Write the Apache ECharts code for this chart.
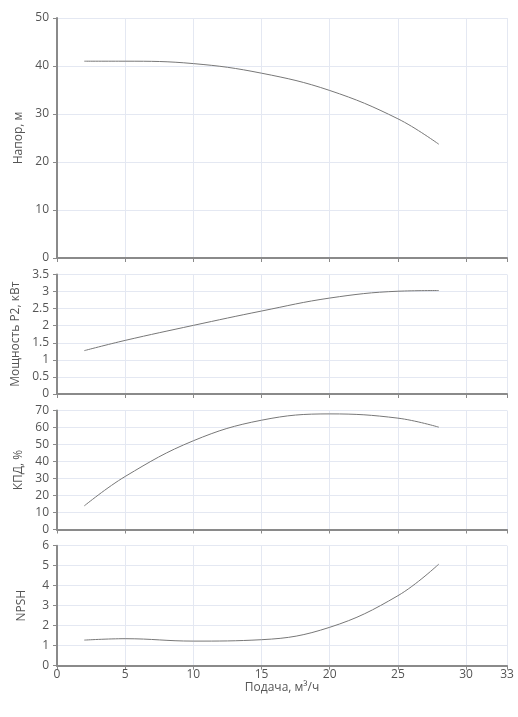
<!DOCTYPE html>
<html>
<head>
<meta charset="utf-8">
<script src="https://cdn.jsdelivr.net/npm/echarts@6/dist/echarts.min.js"></script>
<style>
  html, body { margin: 0; padding: 0; background: #fff; }
  #chart { width: 518px; height: 717px; }
</style>
</head>
<body>
<div id="chart"></div>
<script>
// Подача, м³/ч
const flow = [2, 5, 10, 15, 20, 25, 28];
// Напор, м
const head = [41.0, 41.0, 40.5, 38.5, 34.9, 29.0, 23.7];
// Мощность P2, кВт
const power = [1.27, 1.57, 2.01, 2.43, 2.81, 3.01, 3.03];
// КПД, %
const eff = [13.9, 31.2, 52.2, 64.3, 68.0, 65.5, 60.2];
// NPSH
const npsh = [1.28, 1.35, 1.23, 1.30, 1.92, 3.50, 5.08];

const panels = [
    { name: 'Напор, м', values: head, max: 50, interval: 10, top: 18, height: 240 },
    { name: 'Мощность P2, кВт', values: power, max: 3.5, interval: 0.5, top: 274.5, height: 119.5 },
    { name: 'КПД, %', values: eff, max: 70, interval: 10, top: 410.5, height: 119 },
    { name: 'NPSH', values: npsh, max: 6, interval: 1, top: 545.7, height: 120 }
];

const font = 'Open Sans';
const textColor = '#555';
const axisLineColor = '#8a8a8a';
const splitColor = '#e4e8f2';

const chart = echarts.init(document.getElementById('chart'));

const grid = panels.map(p => ({ left: 57, right: 11, top: p.top, height: p.height }));

const xAxis = panels.map((p, i) => {
    const last = i === panels.length - 1;
    return {
        type: 'value',
        gridIndex: i,
        min: 0,
        max: 33,
        interval: 5,
        name: last ? 'Подача, м³/ч' : '',
        nameLocation: 'middle',
        nameGap: 13,
        nameTextStyle: { fontFamily: font, fontSize: 12, color: textColor },
        axisLine: { onZero: false, lineStyle: { color: axisLineColor, width: 2 } },
        axisTick: { show: true, length: 4, lineStyle: { color: axisLineColor } },
        axisLabel: {
            show: last, margin: 3, fontFamily: font, fontSize: 12, color: textColor,
            showMinLabel: true, showMaxLabel: true
        },
        splitLine: { show: true, lineStyle: { color: splitColor, width: 1 } }
    };
});

const yAxis = panels.map((p, i) => ({
    type: 'value',
    gridIndex: i,
    min: 0,
    max: p.max,
    interval: p.interval,
    name: p.name,
    nameLocation: 'middle',
    nameGap: 29,
    nameTextStyle: { fontFamily: font, fontSize: 12, color: textColor },
    axisLine: { show: true, lineStyle: { color: axisLineColor, width: 2 } },
    axisTick: { show: true, length: 4, lineStyle: { color: axisLineColor } },
    axisLabel: {
        margin: 8, fontFamily: font, fontSize: 12, color: textColor,
        padding: [0, 0, 7, 0]
    },
    splitLine: { show: true, lineStyle: { color: splitColor, width: 1 } }
}));

const series = panels.map((p, i) => ({
    type: 'line',
    xAxisIndex: i,
    yAxisIndex: i,
    smooth: 0.4,
    symbol: 'none',
    lineStyle: { color: '#777', width: 1 },
    data: flow.map((q, k) => [q, p.values[k]])
}));

chart.setOption({
    animation: false,
    grid: grid,
    xAxis: xAxis,
    yAxis: yAxis,
    series: series
});
</script>
</body>
</html>
